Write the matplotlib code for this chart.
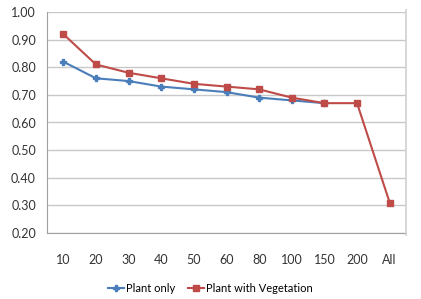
import matplotlib.pyplot as plt
from matplotlib import font_manager

categories = ['10', '20', '30', '40', '50', '60', '80', '100', '150', '200', 'All']
plant_only = [0.82, 0.76, 0.75, 0.73, 0.72, 0.71, 0.69, 0.68, 0.67]
plant_veg = [0.92, 0.81, 0.78, 0.76, 0.74, 0.73, 0.72, 0.69, 0.67, 0.67, 0.31]

names = set(f.name for f in font_manager.fontManager.ttflist)
if 'Liberation Sans Narrow' in names:
    plt.rcParams['font.family'] = ['Liberation Sans Narrow', 'DejaVu Sans']
    fs = 10.5
else:
    plt.rcParams['font.family'] = ['Lato', 'DejaVu Sans']
    fs = 9

fig = plt.figure(figsize=(4.21, 2.99), dpi=100)
ax = fig.add_axes([47 / 421, 1 - 233 / 299, 359 / 421, 221 / 299])

ax.plot(range(len(plant_only)), plant_only, color='#4a7ebb', lw=1.5,
        marker='P', ms=4, label='Plant only')
ax.plot(range(len(plant_veg)), plant_veg, color='#be4b48', lw=1.5,
        marker='s', ms=4.5, label='Plant with Vegetation')

ax.set_xlim(-0.5, len(categories) - 0.5)
ax.set_ylim(0.2, 1.0)
ax.set_xticks(range(len(categories)))
ax.set_xticklabels(categories)
ax.set_yticks([0.2 + 0.1 * i for i in range(9)])
ax.set_yticklabels(['%.2f' % (0.2 + 0.1 * i) for i in range(9)])
ax.tick_params(length=0, labelsize=fs, colors='#333333', pad=8)
ax.tick_params(axis='x', pad=15)
ax.grid(axis='y', color='#c8c8c8', lw=1)
ax.set_axisbelow(True)
for s in ['top', 'right']:
    ax.spines[s].set_visible(False)
for s in ['left', 'bottom']:
    ax.spines[s].set_color('#a0a0a0')

fig.add_artist(plt.Line2D([406 / 421, 406 / 421], [1 - 10 / 299, 1 - 235 / 299],
                          color='#d0d0d0', lw=1.2))

fig.legend(loc='center', bbox_to_anchor=(0.5, 1 - 288 / 299), ncol=2, frameon=False,
           fontsize=8, handlelength=1.4, columnspacing=1.2, handletextpad=0.2)

fig.savefig('out.png', dpi=100)
